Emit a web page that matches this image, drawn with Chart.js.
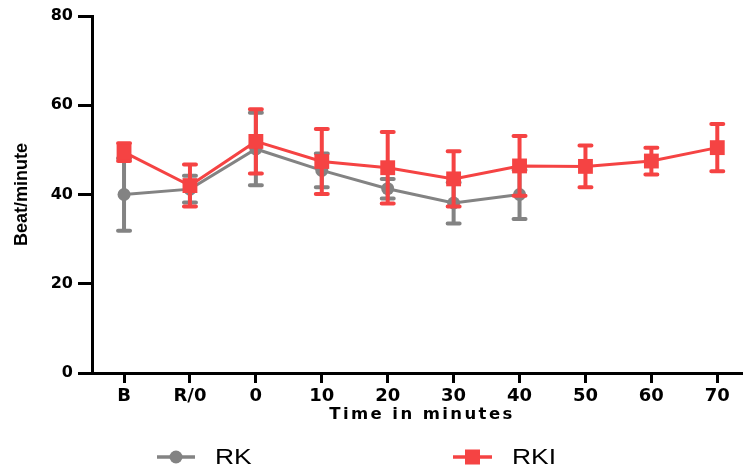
<!DOCTYPE html>
<html>
<head>
<meta charset="utf-8">
<script src="https://cdn.jsdelivr.net/npm/chart.js@4/dist/chart.umd.min.js"></script>
<style>
  html, body { margin: 0; padding: 0; background: #fff; }
  canvas { display: block; }
</style>
</head>
<body>
<canvas id="hrChart" width="743" height="469"></canvas>
<script>
// time points on the x axis
const timeLabels = ['B', 'R/0', '0', '10', '20', '30', '40', '50', '60', '70'];

// RK group (mean and SD), only measured up to 40 min
const rkMean = [40.0, 41.2, 50.2, 45.4, 41.3, 38.1, 40.0];
const rkErr = [8.1, 3.0, 8.1, 3.8, 2.2, 4.6, 5.5];

// RKI group
const rkiMean = [49.5, 42.0, 51.9, 47.4, 46.0, 43.5, 46.4, 46.3, 47.5, 50.5];
const rkiErr = [2.0, 4.7, 7.2, 7.3, 8.0, 6.2, 6.7, 4.7, 3.0, 5.3];

const yTicks = [0, 20, 40, 60, 80];

const GRAY = '#838383';
const RED = '#f54343';
const FONT = "'Liberation Sans', Arial, sans-serif";
const WIDE = "'DejaVu Sans', sans-serif";

function toPoints(arr) {
    return arr.map((v, i) => ({ x: i, y: v }));
}

// error bars, drawn just before each dataset so the markers sit on top
const errorBars = {
    id: 'errorBars',
    beforeDatasetDraw(chart, args) {
        const ds = chart.data.datasets[args.index];
        if (!ds.errors) return;
        const { ctx, scales: { x, y } } = chart;
        ctx.save();
        ctx.strokeStyle = ds.borderColor;
        ctx.lineWidth = 4;
        ctx.lineCap = 'round';
        ds.data.forEach((p, i) => {
            const e = ds.errors[i];
            const px = x.getPixelForValue(p.x);
            const top = y.getPixelForValue(p.y + e);
            const bot = y.getPixelForValue(p.y - e);
            ctx.beginPath();
            ctx.moveTo(px, top);
            ctx.lineTo(px, bot);
            ctx.moveTo(px - 6, top);
            ctx.lineTo(px + 6, top);
            ctx.moveTo(px - 6, bot);
            ctx.lineTo(px + 6, bot);
            ctx.stroke();
        });
        ctx.restore();
    }
};

// stretched text, the original figure has wide lettering
function wideText(ctx, text, x, y, sx) {
    ctx.save();
    ctx.translate(x, y);
    ctx.scale(sx, 1);
    ctx.fillText(text, 0, 0);
    ctx.restore();
}

// x title and the legend under it
const extras = {
    id: 'extras',
    afterDraw(chart) {
        const ctx = chart.ctx;
        ctx.save();
        ctx.fillStyle = '#000';
        ctx.font = 'bold 16.5px ' + WIDE;
        ctx.textAlign = 'center';
        ctx.textBaseline = 'middle';
        ctx.letterSpacing = '2.4px';
        ctx.fillText('Time in minutes', 422, 415);
        ctx.letterSpacing = '0px';

        const y = 457;
        ctx.lineWidth = 3.5;
        // RK
        ctx.strokeStyle = GRAY;
        ctx.beginPath(); ctx.moveTo(157, y); ctx.lineTo(195, y); ctx.stroke();
        ctx.fillStyle = GRAY;
        ctx.beginPath(); ctx.arc(176, y, 6.5, 0, Math.PI * 2); ctx.fill();
        // RKI
        ctx.strokeStyle = RED;
        ctx.beginPath(); ctx.moveTo(453, y); ctx.lineTo(492, y); ctx.stroke();
        ctx.fillStyle = RED;
        ctx.fillRect(465, y - 7.5, 15, 15);

        ctx.fillStyle = '#000';
        ctx.font = '22px ' + FONT;
        ctx.textAlign = 'left';
        wideText(ctx, 'RK', 215, y + 1, 1.2);
        wideText(ctx, 'RKI', 512, y + 1, 1.2);
        ctx.restore();
    }
};

const axisStyle = {
    grid: { drawOnChartArea: false, drawTicks: true, tickWidth: 3, tickColor: '#000' },
    border: { display: true, color: '#000', width: 3 }
};

new Chart(document.getElementById('hrChart'), {
    type: 'line',
    data: {
        datasets: [
            {
                label: 'RK',
                data: toPoints(rkMean),
                errors: rkErr,
                borderColor: GRAY,
                backgroundColor: GRAY,
                borderWidth: 3,
                pointStyle: 'circle',
                pointRadius: 6.5,
                pointBorderWidth: 0,
                order: 1
            },
            {
                label: 'RKI',
                data: toPoints(rkiMean),
                errors: rkiErr,
                borderColor: RED,
                backgroundColor: RED,
                borderWidth: 3,
                pointStyle: 'rect',
                pointRadius: 10.5,
                pointBorderWidth: 0,
                order: 0
            }
        ]
    },
    options: {
        responsive: false,
        animation: false,
        layout: { autoPadding: false, padding: { top: 16, right: 0, left: 0, bottom: 0 } },
        plugins: { legend: { display: false }, tooltip: { enabled: false } },
        scales: {
            x: {
                type: 'linear',
                min: -0.486,
                max: 9.39,
                ...axisStyle,
                grid: { ...axisStyle.grid, tickLength: 10 },
                afterBuildTicks: s => { s.ticks = timeLabels.map((_, i) => ({ value: i })); },
                afterFit: s => {
                    s.height = 96;
                    s.paddingLeft = 0;
                    s.paddingRight = 0;
                },
                ticks: {
                    autoSkip: false,
                    maxRotation: 0,
                    padding: 3,
                    color: '#000',
                    font: { family: WIDE, size: 18, weight: 'bold' },
                    callback: v => timeLabels[v]
                }
            },
            y: {
                min: 0,
                max: 80,
                ...axisStyle,
                grid: { ...axisStyle.grid, tickLength: 14 },
                afterBuildTicks: s => { s.ticks = yTicks.map(v => ({ value: v })); },
                afterFit: s => { s.width = 92; },
                ticks: {
                    padding: 5,
                    color: '#000',
                    font: { family: WIDE, size: 16, weight: 'bold' }
                },
                title: {
                    display: true,
                    text: 'Beat/minute',
                    color: '#000',
                    padding: { top: 11, bottom: 0 },
                    font: { family: FONT, size: 18, weight: 'bold' }
                }
            }
        }
    },
    plugins: [errorBars, extras]
});
</script>
</body>
</html>
